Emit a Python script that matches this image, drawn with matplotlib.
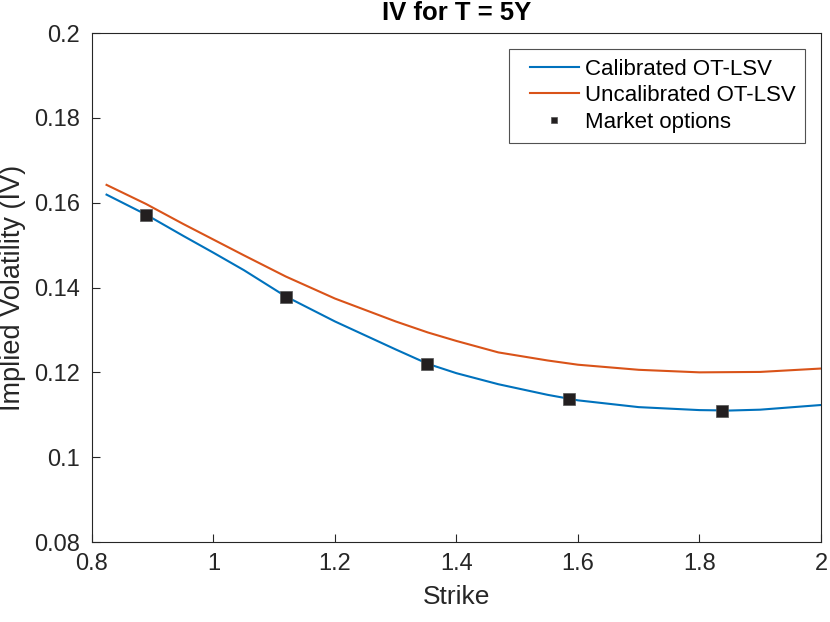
import numpy as np
import matplotlib
matplotlib.use('Agg')
import matplotlib.pyplot as plt
from matplotlib.legend_handler import HandlerLine2D

plt.rcParams['font.family'] = ['Liberation Sans', 'DejaVu Sans']

# strike grid and implied vols
strikeCal = [0.824, 0.889, 0.95, 1.0, 1.05, 1.119, 1.2, 1.3, 1.353, 1.4, 1.469, 1.55, 1.6, 1.7, 1.8, 1.85, 1.9, 2.0]
ivCal = [0.1619, 0.1572, 0.1522, 0.1482, 0.1441, 0.1379, 0.1320, 0.1254, 0.1220, 0.1198, 0.1172, 0.1147, 0.1134, 0.1118, 0.1111, 0.1110, 0.1112, 0.1123]
strikeUncal = [0.824, 0.889, 0.95, 1.0, 1.05, 1.119, 1.2, 1.3, 1.353, 1.4, 1.469, 1.55, 1.6, 1.7, 1.8, 1.9, 2.0]
ivUncal = [0.1642, 0.1597, 0.1550, 0.1513, 0.1476, 0.1426, 0.1374, 0.1320, 0.1294, 0.1274, 0.1247, 0.1228, 0.1218, 0.1206, 0.1200, 0.1201, 0.1209]
# market options
strikeMkt = [0.889, 1.119, 1.351, 1.585, 1.837]
ivMkt = [0.1571, 0.1378, 0.1219, 0.1136, 0.1110]

blue = '#0072BD'
red = '#D95319'
axcol = '#262626'


class PadHandler(HandlerLine2D):
    # leave some white space before the legend line, like matlab does
    def get_xdata(self, legend, xdescent, ydescent, width, height, fontsize):
        pad = 0.18 * width
        xdata = np.array([-xdescent + pad, -xdescent + width])
        xmark = np.array([-xdescent + pad + (width - pad) / 2])
        return xdata, xmark


fig = plt.figure(figsize=(8.3, 6.22), dpi=100)
ax = fig.add_axes([0.1108, 0.1286, 0.8783, 0.8183])
l1, = ax.plot(strikeCal, ivCal, '-', color=blue, lw=1.5, label='Calibrated OT-LSV')
l2, = ax.plot(strikeUncal, ivUncal, '-', color=red, lw=1.5, label='Uncalibrated OT-LSV')
l3, = ax.plot(strikeMkt, ivMkt, 's', color='#231F20', ms=8.5, mec='#555555', mew=0.5,
              ls='none', label='Market options')

ax.set_xlim(0.8, 2)
ax.set_ylim(0.08, 0.2)
ax.set_xticks(np.arange(0.8, 2.01, 0.2))
ax.set_xticklabels(['0.8', '1', '1.2', '1.4', '1.6', '1.8', '2'])
ax.set_yticks(np.arange(0.08, 0.201, 0.02))
ax.set_yticklabels(['0.08', '0.1', '0.12', '0.14', '0.16', '0.18', '0.2'])
ax.tick_params(direction='in', length=6, width=0.8, colors=axcol, labelsize=17,
               top=False, right=False)
ax.tick_params(axis='x', pad=8)
ax.tick_params(axis='y', pad=8.5)
for s in ax.spines.values():
    s.set_color(axcol)
    s.set_linewidth(0.8)
ax.set_xlabel('Strike', fontsize=19, color=axcol, labelpad=7)
ax.set_ylabel('Implied Volatility (IV)', fontsize=19.5, color=axcol, labelpad=6)
ax.set_title('IV for T = 5Y', fontsize=18.5, fontweight='bold', color='#000000', pad=9.5)

leg = ax.legend(handles=[l1, l2, l3], loc='upper right', fontsize=16, frameon=True,
                fancybox=False, edgecolor=axcol, handlelength=2.7, handletextpad=0.25,
                borderaxespad=0.7, labelspacing=0.25, borderpad=0.45, markerscale=0.45,
                handler_map={l1: PadHandler(), l2: PadHandler(), l3: PadHandler()})
leg.get_frame().set_linewidth(0.8)

plt.savefig('out.png', dpi=100)
